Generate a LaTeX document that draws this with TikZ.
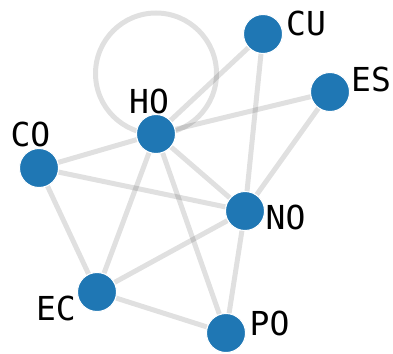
\documentclass[tikz,border=0pt]{standalone}
\usepackage{fontspec}
\setmonofont{DejaVu Sans Mono}
\usetikzlibrary{backgrounds}
\definecolor{nodeblue}{HTML}{1F77B4}
\tikzset{
  vert/.style={circle, fill=nodeblue, draw=white, line width=1pt, minimum size=39pt, inner sep=0pt, outer sep=0.5pt},
  edge/.style={draw=black, draw opacity=0.12, line width=5pt},
  lbl/.style={inner sep=0pt, anchor=base, font=\ttfamily\fontsize{33}{33}\selectfont}
}
\begin{document}
\begin{tikzpicture}[x=1pt, y=-1pt]
\useasboundingbox (0,0) rectangle (393,353);
\node[vert] (HO) at (156,134) {};
\node[vert] (CU) at (263,34) {};
\node[vert] (ES) at (330,92) {};
\node[vert] (CO) at (39,168) {};
\node[vert] (NO) at (245,211) {};
\node[vert] (EC) at (97,292) {};
\node[vert] (PO) at (226,333) {};
\begin{scope}[on background layer]
\draw[edge] (HO.center) ++(0,-60.5) circle[radius=60.5pt];
\draw[edge] (HO) -- (CU);
\draw[edge] (HO) -- (ES);
\draw[edge] (HO) -- (CO);
\draw[edge] (HO) -- (NO);
\draw[edge] (HO) -- (EC);
\draw[edge] (HO) -- (PO);
\draw[edge] (CO) -- (NO);
\draw[edge] (CO) -- (EC);
\draw[edge] (EC) -- (NO);
\draw[edge] (EC) -- (PO);
\draw[edge] (NO) -- (PO);
\draw[edge] (NO) -- (ES);
\draw[edge] (NO) -- (CU);
\end{scope}
\node[lbl] (tHO) at (149,113) {HO};
\node[lbl] (tCU) at (306,35.5) {CU};
\node[lbl] (tES) at (371,91.5) {ES};
\node[lbl] (tCO) at (30.5,146) {CO};
\node[lbl] (tNO) at (285.5,229) {NO};
\node[lbl] (tEC) at (56,320) {EC};
\node[lbl] (tPO) at (269.5,335) {PO};
\end{tikzpicture}
\end{document}
